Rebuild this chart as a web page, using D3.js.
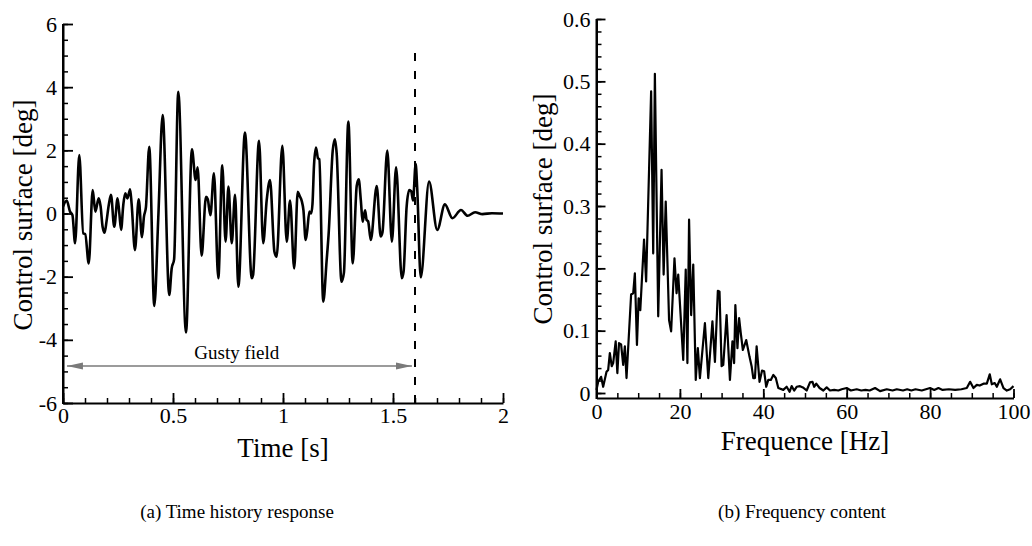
<!DOCTYPE html>
<html>
<head>
<meta charset="utf-8">
<script src="https://cdn.jsdelivr.net/npm/d3@7/dist/d3.min.js"></script>
<style>
  html, body { margin: 0; padding: 0; background: #fff; }
  svg { display: block; }
  text { font-family: "Liberation Serif", "Times New Roman", serif; fill: #000; }
</style>
</head>
<body>
<svg id="chart" width="1032" height="546"></svg>
<script>
// ---------- Data: (a) time history ----------
const timeS = [0.000,0.017,0.032,0.043,0.055,0.074,0.092,0.101,0.117,0.135,0.147,0.162,0.171,0.180,0.189,0.198,0.208,0.218,0.233,0.248,0.256,0.264,0.274,0.283,0.293,0.305,0.312,0.327,0.344,0.359,0.368,0.377,0.392,0.415,0.433,0.453,0.483,0.494,0.505,0.524,0.559,0.586,0.603,0.612,0.630,0.650,0.658,0.670,0.686,0.706,0.724,0.739,0.752,0.767,0.782,0.797,0.827,0.858,0.864,0.891,0.910,0.926,0.941,0.961,0.971,0.997,1.017,1.032,1.051,1.067,1.076,1.085,1.093,1.103,1.110,1.120,1.128,1.134,1.141,1.150,1.159,1.165,1.183,1.198,1.208,1.226,1.236,1.244,1.266,1.277,1.297,1.317,1.335,1.344,1.354,1.362,1.373,1.380,1.387,1.399,1.426,1.444,1.452,1.474,1.495,1.514,1.540,1.548,1.562,1.574,1.583,1.591,1.603,1.610,1.626,1.664,1.701,1.736,1.770,1.809,1.839,1.873,1.907,1.950,2.000];
const deflectionDeg = [0.22,0.41,0.06,-0.05,-0.94,1.85,-0.63,-0.65,-1.58,0.74,0.06,0.48,0.22,-0.42,-0.61,-0.24,0.27,0.59,-0.42,0.48,0.01,-0.52,0.27,0.64,0.48,0.77,0.30,-1.16,0.45,-0.75,-0.10,0.20,2.11,-2.93,-0.15,3.12,-2.58,-1.74,-1.45,3.85,-3.77,2.03,1.06,1.46,-1.34,0.53,0.45,-0.05,1.27,-2.05,1.53,-0.89,0.85,-0.94,0.59,-2.32,2.56,-2.05,-1.95,2.30,-0.94,0.43,1.06,-1.21,-1.37,2.14,-0.89,0.41,-1.74,0.69,0.55,0.40,0.10,-0.84,-0.55,0.06,0.00,0.30,1.53,2.09,1.75,1.72,-2.79,-1.52,-0.58,1.99,2.35,1.90,-2.16,-1.87,2.91,-1.58,0.87,1.08,0.40,-0.26,0.10,-0.20,-0.25,-0.84,0.87,-0.73,-0.60,1.99,-0.89,1.46,-2.05,-1.85,0.22,0.74,0.70,0.41,1.57,0.80,-2.02,1.01,-0.52,0.29,-0.15,0.11,-0.07,0.04,-0.02,0.01,0.00];

// ---------- Data: (b) frequency content ----------
const freqHz = [0,0.4,1.1,1.6,2.4,2.8,3.2,3.65,4.0,4.6,5.0,5.4,5.9,6.4,6.8,7.2,8.3,8.8,9.2,9.7,10.1,10.5,11.4,11.9,13.1,13.6,14.0,14.8,15.6,16.1,16.6,17.4,17.9,18.7,19.2,19.6,20.8,21.4,21.8,22.2,22.7,23.2,23.8,24.3,24.8,26.0,26.8,27.8,28.4,29.1,29.5,30.0,30.4,31.2,32.0,32.6,33.0,33.3,33.8,34.2,34.6,35.1,35.9,36.7,37.2,37.6,38.0,38.4,39.1,39.7,40.2,40.7,41.2,41.8,42.4,43.0,43.6,44.8,45.6,46.3,46.8,47.4,48.0,48.8,49.5,50.4,51.2,51.8,52.2,52.7,53.5,54.4,55.2,56.0,57.0,58.0,58.8,60.0,61.0,62.4,63.5,64.5,65.5,66.8,68.0,69.6,71.0,72.0,73.5,74.5,75.5,76.5,78.0,80.0,81.0,82.0,83.0,84.5,86.0,87.5,88.8,89.6,90.4,91.2,91.9,92.8,93.6,94.3,94.8,95.5,96.0,96.8,97.6,98.4,99.2,100.0];
const amplitudeDeg = [0.005,0.018,0.026,0.010,0.034,0.037,0.064,0.043,0.048,0.083,0.032,0.080,0.078,0.045,0.075,0.024,0.158,0.160,0.192,0.077,0.152,0.133,0.246,0.179,0.484,0.224,0.512,0.123,0.358,0.190,0.307,0.117,0.099,0.216,0.160,0.190,0.053,0.198,0.048,0.278,0.125,0.206,0.021,0.072,0.024,0.112,0.024,0.115,0.050,0.164,0.163,0.043,0.045,0.125,0.021,0.083,0.048,0.141,0.072,0.120,0.096,0.069,0.085,0.058,0.043,0.024,0.024,0.075,0.018,0.036,0.035,0.010,0.021,0.021,0.029,0.024,0.008,0.005,0.010,0.002,0.011,0.004,0.010,0.011,0.009,0.004,0.017,0.018,0.010,0.015,0.008,0.004,0.009,0.004,0.005,0.004,0.006,0.008,0.004,0.006,0.004,0.005,0.004,0.008,0.003,0.006,0.004,0.006,0.004,0.006,0.004,0.006,0.004,0.008,0.005,0.008,0.005,0.006,0.005,0.006,0.008,0.018,0.008,0.013,0.012,0.015,0.015,0.030,0.014,0.016,0.010,0.022,0.008,0.004,0.006,0.011];

// ---------- Tick labels ----------
const leftXTicks = [0, 0.5, 1, 1.5, 2];
const leftYTicks = [-6, -4, -2, 0, 2, 4, 6];
const rightXTicks = [0, 20, 40, 60, 80, 100];
const rightYTicks = [0, 0.1, 0.2, 0.3, 0.4, 0.5, 0.6];

// ---------- Annotations ----------
const gustEndTime = 1.6;
const gustLineTop = 5.1;
const gustArrow = { from: 0.018, to: 1.586, level: -4.83, label: "Gusty field", labelAt: 0.79 };
const labels = {
  leftX: "Time [s]", rightX: "Frequence [Hz]", y: "Control surface [deg]",
  capA: "(a) Time history response", capB: "(b) Frequency content"
};

const SERIF = "Liberation Serif";
const svg = d3.select("#chart");
svg.append("rect").attr("width", 1032).attr("height", 546).attr("fill", "#fff");

const fmt = d => String(d);

// ---------- Scales ----------
const xL = d3.scaleLinear().domain([0, 2]).range([63, 503]);
const yL = d3.scaleLinear().domain([-6, 6]).range([403, 24]);
const xR = d3.scaleLinear().domain([0, 100]).range([596.5, 1013.5]);
const yR = d3.scaleLinear().domain([-0.008, 0.6]).range([398, 19]);

function styleAxis(g, fs) {
  g.attr("font-family", SERIF).attr("font-size", fs);
  g.select(".domain").attr("stroke", "#000").attr("stroke-width", 2);
  g.selectAll(".tick line").attr("stroke", "#000").attr("stroke-width", 1.8);
  g.selectAll(".tick text")
    .attr("font-family", SERIF).attr("font-size", fs)
    .style("font-family", SERIF).style("font-size", fs + "px").attr("fill", "#000");
}
function minorAxis(axis, pos, vals, size) {
  const g = svg.append("g").attr("transform", pos)
    .call(axis.tickValues(vals).tickSizeInner(size).tickSizeOuter(0).tickFormat(""));
  g.select(".domain").remove();
  g.selectAll(".tick text").remove();
  g.selectAll(".tick line").attr("stroke", "#000").attr("stroke-width", 1.5);
}

// ----- Left panel axes -----
minorAxis(d3.axisLeft(yL), "translate(63,0)", d3.range(-6, 6.001, 0.5), -5);
minorAxis(d3.axisBottom(xL), "translate(0,403)", d3.range(0, 2.001, 0.1), -5);
svg.append("g").attr("transform", "translate(63,0)")
  .call(d3.axisLeft(yL).tickValues(leftYTicks).tickSizeInner(-10).tickSizeOuter(0).tickPadding(6).tickFormat(fmt))
  .call(g => styleAxis(g, 22));
svg.append("g").attr("transform", "translate(0,403)")
  .call(d3.axisBottom(xL).tickValues(leftXTicks).tickSizeInner(-10).tickSizeOuter(0).tickPadding(4).tickFormat(fmt))
  .call(g => styleAxis(g, 22));

// ----- Right panel axes -----
minorAxis(d3.axisLeft(yR), "translate(596.5,0)", d3.range(0, 0.6001, 0.02), -5);
minorAxis(d3.axisBottom(xR), "translate(0,398)", d3.range(0, 100.001, 5), -5);
svg.append("g").attr("transform", "translate(596.5,0)")
  .call(d3.axisLeft(yR).tickValues(rightYTicks).tickSizeInner(-9).tickSizeOuter(0).tickPadding(6).tickFormat(fmt))
  .call(g => styleAxis(g, 22));
svg.append("g").attr("transform", "translate(0,398)")
  .call(d3.axisBottom(xR).tickValues(rightXTicks).tickSizeInner(-9).tickSizeOuter(0).tickPadding(5).tickFormat(fmt))
  .call(g => styleAxis(g, 22));

// ensure axis lines span the full frame
svg.append("line").attr("x1", 63).attr("x2", 63).attr("y1", yL(-6) + 1).attr("y2", yL(6)).attr("stroke", "#000").attr("stroke-width", 2);
svg.append("line").attr("x1", 596.5).attr("x2", 596.5).attr("y1", 399).attr("y2", 19).attr("stroke", "#000").attr("stroke-width", 2);

// ---------- Lines ----------
const timeData = timeS.map((t, i) => [t, deflectionDeg[i]]);
const freqData = freqHz.map((f, i) => [f, amplitudeDeg[i]]);

svg.append("path").datum(timeData)
  .attr("fill", "none").attr("stroke", "#000").attr("stroke-width", 2.6).attr("stroke-linejoin", "round")
  .attr("d", d3.line().x(d => xL(d[0])).y(d => yL(d[1])).curve(d3.curveMonotoneX));

svg.append("path").datum(freqData)
  .attr("fill", "none").attr("stroke", "#000").attr("stroke-width", 2.2).attr("stroke-linejoin", "round")
  .attr("d", d3.line().x(d => xR(d[0])).y(d => yR(d[1])));

// ---------- Gust annotation ----------
svg.append("line")
  .attr("x1", xL(gustEndTime)).attr("x2", xL(gustEndTime))
  .attr("y1", yL(-6)).attr("y2", yL(gustLineTop))
  .attr("stroke", "#000").attr("stroke-width", 2).attr("stroke-dasharray", "8,10");

const defs = svg.append("defs");
defs.append("marker").attr("id", "arrEnd").attr("markerUnits", "userSpaceOnUse")
  .attr("viewBox", "0 0 16 10").attr("refX", 16).attr("refY", 5)
  .attr("markerWidth", 16).attr("markerHeight", 10).attr("orient", "auto")
  .append("path").attr("d", "M0,1.5L16,5L0,8.5Z").attr("fill", "#7a7a7a");
defs.append("marker").attr("id", "arrStart").attr("markerUnits", "userSpaceOnUse")
  .attr("viewBox", "0 0 16 10").attr("refX", 0).attr("refY", 5)
  .attr("markerWidth", 16).attr("markerHeight", 10).attr("orient", "auto")
  .append("path").attr("d", "M16,1.5L0,5L16,8.5Z").attr("fill", "#7a7a7a");

svg.append("line")
  .attr("x1", xL(gustArrow.from)).attr("x2", xL(gustArrow.to))
  .attr("y1", yL(gustArrow.level)).attr("y2", yL(gustArrow.level))
  .attr("stroke", "#7a7a7a").attr("stroke-width", 1.5)
  .attr("marker-start", "url(#arrStart)").attr("marker-end", "url(#arrEnd)");
svg.append("text").attr("x", xL(gustArrow.labelAt)).attr("y", yL(gustArrow.level) - 7)
  .attr("text-anchor", "middle").style("font-size", "19px").text(gustArrow.label);

// ---------- Axis titles ----------
svg.append("text").attr("x", 283).attr("y", 457).attr("text-anchor", "middle").style("font-size", "27px").text(labels.leftX);
svg.append("text").attr("x", 805).attr("y", 450).attr("text-anchor", "middle").style("font-size", "27px").text(labels.rightX);
svg.append("text").attr("transform", "translate(32,215) rotate(-90)").attr("text-anchor", "middle").style("font-size", "27px").text(labels.y);
svg.append("text").attr("transform", "translate(552,209) rotate(-90)").attr("text-anchor", "middle").style("font-size", "27px").text(labels.y);

// ---------- Captions ----------
svg.append("text").attr("x", 237).attr("y", 518).attr("text-anchor", "middle").style("font-size", "19px").text(labels.capA);
svg.append("text").attr("x", 802).attr("y", 518).attr("text-anchor", "middle").style("font-size", "19px").text(labels.capB);
</script>
</body>
</html>
